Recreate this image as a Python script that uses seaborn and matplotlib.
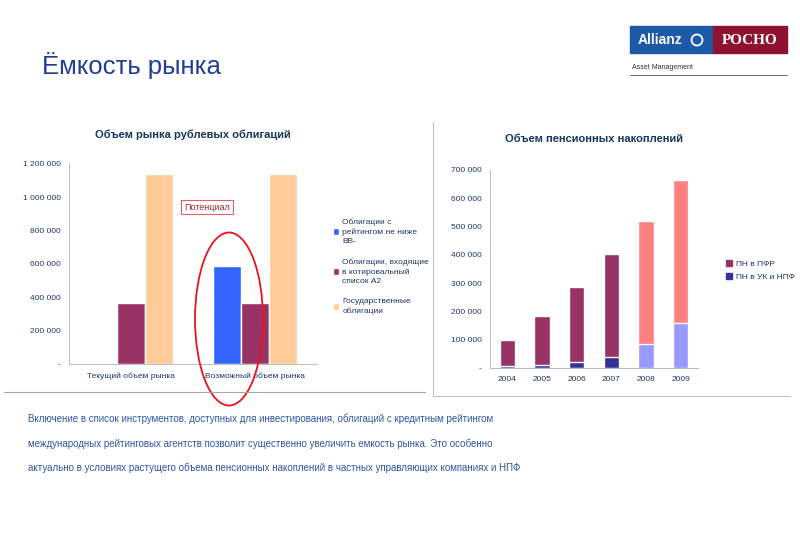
import matplotlib
matplotlib.use("Agg")
import matplotlib.pyplot as plt
from matplotlib.patches import Ellipse, Patch, Rectangle
from matplotlib.lines import Line2D
import numpy as np
import pandas as pd
import seaborn as sns

# left chart: rouble bond market volume
bond_cats = ["Текущий объем рынка", "Возможный объем рынка"]
bond_series = ["Облигации с\nрейтингом не ниже\nBB-",
               "Облигации, входящие\nв котировальный\nсписок А2",
               "Государственные\nоблигации"]
bond_rated = [0, 586000]
bond_a2 = [365000, 365000]
bond_gov = [1140000, 1140000]
bond_colors = ["#3366FF", "#993366", "#FFCC99"]

# right chart: pension savings
years = ["2004", "2005", "2006", "2007", "2008", "2009"]
pn_uk_npf = [8000, 9000, 21000, 39000, 86000, 160000]
pn_pfr = [90000, 176000, 267000, 365000, 435000, 503000]
pfr_colors = ["#993366", "#993366", "#993366", "#993366", "#FF8080", "#FF8080"]
uk_colors = ["#333399", "#333399", "#333399", "#333399", "#9999FF", "#9999FF"]

body_lines = [
    "Включение в список инструментов, доступных для инвестирования, облигаций с кредитным рейтингом",
    "международных рейтинговых агентств позволит существенно увеличить емкость рынка. Это особенно",
    "актуально в условиях растущего объема пенсионных накоплений в частных управляющих компаниях и НПФ",
]

sns.set_theme(style="white")
plt.rcParams["font.family"] = ["Liberation Sans", "DejaVu Sans"]

tick_color = "#1F3864"
title_color = "#17375E"


def fmt_thousands(v, pos=None):
    if v == 0:
        return "-"
    return f"{int(v):,}".replace(",", " ")


def style_axis(ax):
    for side in ["top", "right"]:
        ax.spines[side].set_visible(False)
    for side in ["left", "bottom"]:
        ax.spines[side].set_color("#BFBFBF")
        ax.spines[side].set_linewidth(0.8)
    ax.yaxis.set_major_formatter(plt.FuncFormatter(fmt_thousands))
    ax.tick_params(axis="both", labelsize=6, colors=tick_color, length=0, pad=6)
    ax.set_xlabel("")
    ax.set_ylabel("")


fig = plt.figure(figsize=(8, 5.54), dpi=100)

# header
fig.text(42 / 800, 1 - 74 / 554, "Ёмкость рынка", fontsize=18.5, color="#1F3F95")
fig.add_artist(Rectangle((630 / 800, 1 - 53 / 554), 83 / 800, 27 / 554,
                         transform=fig.transFigure, color="#1C5AA8"))
fig.add_artist(Rectangle((713 / 800, 1 - 53 / 554), 74 / 800, 27 / 554,
                         transform=fig.transFigure, color="#8C1230"))
fig.text(660 / 800, 1 - 40 / 554, "Allianz", color="white", fontsize=10,
         fontweight="bold", ha="center", va="center")
fig.add_artist(Ellipse((697 / 800, 1 - 40 / 554), 11 / 800, 11 / 554,
                       transform=fig.transFigure, fill=False, ec="white", lw=1.3))
fig.text(750 / 800, 1 - 40 / 554, "РОСНО", color="white", fontsize=11,
         fontweight="bold", family="Liberation Serif", ha="center", va="center")
fig.text(632 / 800, 1 - 69 / 554, "Asset Management", color="#333333", fontsize=5)
fig.add_artist(Line2D([630 / 800, 787 / 800], [1 - 75 / 554, 1 - 75 / 554],
                      transform=fig.transFigure, color="#555555", lw=0.6))

# left chart
ax1 = fig.add_axes([69 / 800, 1 - 364 / 554, 248 / 800, 200 / 554])
df_left = pd.DataFrame({
    "Категория": bond_cats * 3,
    "Серия": [bond_series[0]] * 2 + [bond_series[1]] * 2 + [bond_series[2]] * 2,
    "Объем": bond_rated + bond_a2 + bond_gov,
})
sns.barplot(data=df_left, x="Категория", y="Объем", hue="Серия",
            hue_order=bond_series, palette=bond_colors, width=0.67,
            saturation=1, ax=ax1)
ax1.set_ylim(0, 1200000)
ax1.set_yticks(np.arange(0, 1200001, 200000))
style_axis(ax1)
ax1.set_xlim(-0.5, 1.5)
ax1.set_title("Объем рынка рублевых облигаций", fontsize=8, fontweight="bold",
              color=title_color, pad=18.5)
leg = ax1.legend(loc="upper left", bbox_to_anchor=(325 / 800, 1 - 211 / 554),
                 bbox_transform=fig.transFigure, frameon=False, fontsize=6,
                 handlelength=0.8, handleheight=0.8, handletextpad=0.4,
                 labelspacing=1.6)
for t in leg.get_texts():
    t.set_color(tick_color)
    t.set_linespacing(1.45)
ax1.text(207 / 800, 1 - 207 / 554, "Потенциал", transform=fig.transFigure,
         ha="center", va="center", fontsize=6.5, color="#9B2335",
         bbox=dict(boxstyle="square,pad=0.3", fc="white", ec="#E06060", lw=0.8))
fig.add_artist(Ellipse((229 / 800, 1 - 319 / 554), 68 / 800, 173 / 554,
                       transform=fig.transFigure, fill=False, ec="#E8141B", lw=1.3))
fig.add_artist(Line2D([4 / 800, 425 / 800], [1 - 392 / 554, 1 - 392 / 554],
                      transform=fig.transFigure, color="#A6A6A6", lw=0.8))

# right chart
ax2 = fig.add_axes([490 / 800, 1 - 368 / 554, 208 / 800, 198 / 554])
totals = [a + b for a, b in zip(pn_pfr, pn_uk_npf)]
sns.barplot(x=years, y=totals, hue=years, palette=pfr_colors, width=0.44,
            saturation=1, legend=False, ax=ax2)
sns.barplot(x=years, y=pn_uk_npf, hue=years, palette=uk_colors, width=0.44,
            saturation=1, legend=False, ax=ax2)
ax2.set_ylim(0, 700000)
ax2.set_yticks(np.arange(0, 700001, 100000))
style_axis(ax2)
ax2.set_title("Объем пенсионных накоплений", fontsize=8, fontweight="bold",
              color=title_color, pad=20.5)
leg2 = ax2.legend(handles=[Patch(color="#993366", label="ПН в ПФР"),
                           Patch(color="#333399", label="ПН в УК и НПФ")],
                  loc="upper left", bbox_to_anchor=(718 / 800, 1 - 252 / 554),
                  bbox_transform=fig.transFigure, frameon=False, fontsize=6,
                  handlelength=0.8, handleheight=0.8, handletextpad=0.4,
                  labelspacing=0.6)
for t in leg2.get_texts():
    t.set_color(tick_color)
fig.add_artist(Line2D([433 / 800, 433 / 800, 790 / 800],
                      [1 - 122 / 554, 1 - 396 / 554, 1 - 396 / 554],
                      transform=fig.transFigure, color="#BFBFBF", lw=0.8))

# body text
for i, line in enumerate(body_lines):
    fig.text(28 / 800, 1 - (419 + i * 24.5) / 554, line, fontsize=7.0,
             color="#2F55A4", va="center")

fig.savefig("out.png", dpi=100)
